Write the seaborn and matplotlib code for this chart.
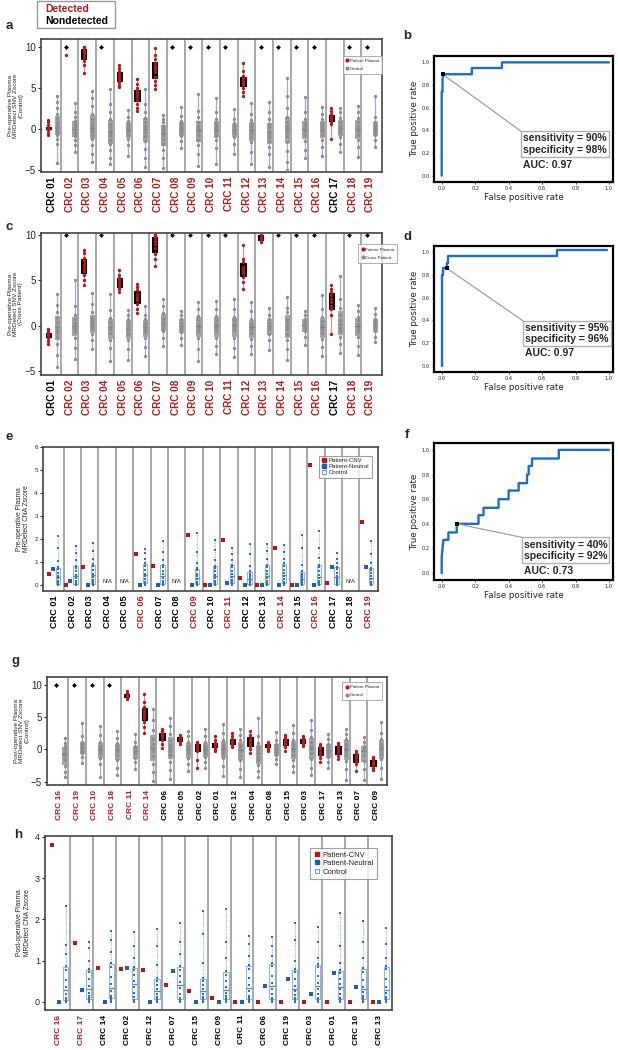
import matplotlib
matplotlib.use("Agg")
import matplotlib.pyplot as plt
import numpy as np
import pandas as pd
import seaborn as sns
from matplotlib.lines import Line2D
from matplotlib.patches import Rectangle

sns.set_theme(style="white")
plt.rcParams["font.family"] = ["Liberation Sans", "DejaVu Sans"]

# ---------------------------------------------------------------- data
pre_names = ["CRC 01", "CRC 02", "CRC 03", "CRC 04", "CRC 05", "CRC 06", "CRC 07",
             "CRC 08", "CRC 09", "CRC 10", "CRC 11", "CRC 12", "CRC 13", "CRC 14",
             "CRC 15", "CRC 16", "CRC 17", "CRC 18", "CRC 19"]
a_detected = [0, 1, 1, 1, 1, 1, 1, 1, 1, 1, 1, 1, 1, 1, 1, 1, 0, 1, 1]
c_detected = [0, 1, 1, 1, 1, 1, 1, 1, 1, 1, 1, 1, 1, 1, 1, 1, 0, 1, 1]
e_detected = [0, 0, 0, 0, 0, 1, 0, 0, 1, 0, 1, 0, 0, 1, 0, 1, 0, 0, 1]

# patient plasma z-scores ([10] = capped at 10)
a_patient = [
    [-0.8, -0.5, -0.1, 0, 0, 0, 0.05, 0.1, 0.1, 0.5, 0.8, 1.1],
    [10, 9.0],
    [6.8, 7.8, 8.3, 8.8, 9.1, 9.3, 9.5, 9.6, 9.8, 10, 10],
    [10],
    [5.1, 5.4, 5.7, 5.9, 6.1, 6.3, 6.4, 6.6, 6.8, 7.1, 7.4, 7.8],
    [2.2, 2.6, 3.0, 3.5, 3.9, 4.1, 4.3, 4.5, 4.7, 5.0, 5.5, 6.1],
    [4.8, 5.3, 5.8, 6.3, 6.9, 7.2, 7.4, 7.7, 8.0, 8.5, 9.0, 9.8],
    [10], [10], [10], [10],
    [4.0, 4.5, 5.0, 5.4, 5.6, 5.8, 6.0, 6.2, 6.5, 7.0, 8.0],
    [10], [10], [10], [10],
    [-1.2, 0.6, 0.9, 1.1, 1.3, 1.4, 1.6, 1.8, 2.2, 2.6],
    [10], [10],
]
a_control = [
    [-4.2, -1.8, -1.2, -0.8, -0.4, -0.2, 0, 0.2, 0.5, 0.9, 1.3, 1.8, 2.5, 3.3, 4.0],
    [-2.8, -2, -1.3, -0.9, -0.5, -0.2, 0, 0.3, 0.6, 1, 1.4, 2, 3.1],
    [-4, -3, -2, -1.2, -0.7, -0.3, 0, 0.3, 0.7, 1.2, 1.8, 2.8, 3.8, 4.6],
    [-4.3, -3.5, -2.6, -1.8, -1.3, -0.8, -0.5, -0.2, 0.2, 0.6, 1.2, 2.0, 3.0, 4.9],
    [-3.3, -2, -1.2, -0.7, -0.3, 0, 0.3, 0.6, 1, 1.5, 2.3],
    [-4.7, -3.5, -2.5, -1.5, -0.9, -0.4, 0, 0.4, 0.8, 1.3, 2, 3, 4.8],
    [-4.8, -3.5, -2.6, -1.8, -1.2, -0.7, -0.3, 0, 0.4, 0.8, 1.2, 1.7],
    [-2.3, -1.5, -0.9, -0.5, -0.2, 0, 0.3, 0.6, 1, 1.6, 2.7],
    [-4.5, -3, -2, -1.3, -0.7, -0.3, 0, 0.4, 0.8, 1.4, 2.2, 4.3],
    [-4.3, -2.3, -1.3, -0.7, -0.3, 0, 0.3, 0.7, 1.2, 2, 3.8],
    [-3, -1.8, -1, -0.5, -0.2, 0, 0.3, 0.7, 1.2, 2.4],
    [-4.3, -2.8, -1.6, -1, -0.5, -0.1, 0.2, 0.6, 1.1, 1.8, 3.1],
    [-4.7, -3, -2.2, -1.5, -1, -0.6, -0.2, 0.2, 0.6, 1.2, 2, 3.3],
    [-5, -4, -2.7, -1.6, -0.9, -0.4, 0, 0.4, 0.9, 1.5, 2.5, 4, 6.2],
    [-3.5, -2.6, -1.5, -0.8, -0.3, 0, 0.3, 0.7, 1.2, 2, 3.9],
    [-3.3, -2.2, -1.3, -0.7, -0.3, 0, 0.3, 0.7, 1.2, 1.8, 2.7],
    [-2.8, -1.8, -1, -0.5, -0.2, 0.1, 0.4, 0.8, 1.3, 2.0, 2.6],
    [-3.4, -2.2, -1.4, -0.8, -0.3, 0, 0.3, 0.8, 1.3, 2.1, 2.8],
    [-2.2, -1.4, -0.8, -0.4, -0.1, 0.2, 0.5, 0.9, 1.5, 4.0],
]

c_patient = [
    [-2, -1.7, -1.3, -1.0, -0.95, -0.9, -0.85, -0.8, -0.6, -0.3],
    [10],
    [4.5, 5.0, 5.6, 6.0, 6.3, 6.6, 6.8, 7.1, 7.5, 8.0, 8.3],
    [10],
    [3.7, 4.0, 4.3, 4.6, 4.8, 5.0, 5.3, 5.6, 6.1],
    [1.4, 1.9, 2.4, 2.8, 3.0, 3.2, 3.5, 3.9, 4.3, 4.6],
    [6.6, 7.3, 7.9, 8.6, 9.0, 9.3, 9.6, 9.8, 10, 10],
    [10], [10], [10], [10],
    [4.0, 4.8, 5.4, 5.8, 6.0, 6.2, 6.5, 7.0, 7.3, 8.9],
    [9.2, 9.4, 9.6, 9.8, 10, 10],
    [10], [10], [10],
    [-0.9, 1.2, 1.8, 2.2, 2.6, 3.0, 3.4, 3.7, 4.1, 4.5],
    [10], [10],
]
c_control = [
    [-4.5, -3.2, -2, -1.2, -0.7, -0.3, 0, 0.4, 0.9, 1.5, 2.3, 3.5],
    [-3.6, -2.4, -1.3, -0.7, -0.3, 0, 0.3, 0.7, 1.2, 2.2, 5.0],
    [-2.5, -1.6, -0.9, -0.4, -0.1, 0.2, 0.5, 0.9, 1.5, 2.4, 3.6],
    [-3.9, -2.4, -1.5, -0.8, -0.3, 0, 0.4, 0.9, 1.7, 3.5],
    [-3.7, -2.5, -1.5, -0.9, -0.5, -0.1, 0.3, 0.7, 1.2, 1.7],
    [-3.3, -2.3, -1.3, -0.7, -0.3, 0, 0.3, 0.7, 1.2, 2.2],
    [-2.2, -1.3, -0.6, -0.2, 0.1, 0.4, 0.8, 1.4, 2.2, 3.0],
    [-2.1, -1.3, -0.7, -0.3, 0, 0.3, 0.7, 1.2, 1.6],
    [-3.9, -2.5, -1.3, -0.6, -0.2, 0.2, 0.6, 1.1, 1.8, 2.6],
    [-3.1, -2.2, -1.3, -0.6, -0.2, 0.2, 0.6, 1.1, 1.9, 2.7],
    [-3.4, -2.4, -1.3, -0.5, -0.1, 0.2, 0.6, 1.0, 1.8, 3.0],
    [-3.1, -2.2, -1.4, -0.8, -0.3, 0, 0.3, 0.8, 1.6, 2.6],
    [-2.6, -1.6, -0.9, -0.4, 0, 0.3, 0.7, 1.2, 2.0],
    [-3.8, -2.5, -1.5, -0.9, -0.4, 0, 0.4, 0.8, 1.5, 2.0, 3.2],
    [-2.1, -1.2, -0.6, -0.2, 0.1, 0.4, 0.8, 1.2, 1.6],
    [-3.3, -2.3, -1.4, -0.8, -0.3, 0.1, 0.5, 1.0, 1.8, 3.4],
    [-3.0, -2.0, -1.2, -0.6, -0.2, 0.2, 0.6, 1.2, 2.0, 3.0, 5.5],
    [-3.2, -2.2, -1.2, -0.6, -0.2, 0.2, 0.6, 1.0, 1.6, 2.3],
    [-1.8, -1.2, -0.6, -0.2, 0.1, 0.4, 0.8, 1.3, 2.0],
]

# pre-operative CNA (None = N/A)
e_cnv = [0.5, 0.03, 0.8, None, None, 1.35, 0.85, None, 2.2, 0.0, 1.95, 0.3, 0.0,
         1.6, 0.0, 5.2, 0.1, None, 2.75]
e_neutral = [0.7, 0.2, 0.0, None, None, 0.03, 0.0, None, 0.0, 0.0, 0.1, 0.0, 0.0,
             0.0, 0.0, 0.0, 0.8, None, 0.8]
e_control = [
    [0, 0, 0.02, 0.05, 0.1, 0.18, 0.3, 0.42, 0.55, 0.7, 0.78, 1.05, 1.6, 2.15],
    [0, 0, 0.01, 0.04, 0.1, 0.2, 0.32, 0.45, 0.6, 0.75, 0.85, 1.1, 1.4, 1.7],
    [0, 0, 0.02, 0.06, 0.12, 0.22, 0.35, 0.5, 0.65, 0.82, 0.92, 1.15, 1.5, 1.83],
    [], [],
    [0, 0.01, 0.03, 0.08, 0.15, 0.25, 0.38, 0.5, 0.68, 0.85, 0.95, 1.15, 1.4, 1.58],
    [0, 0, 0.02, 0.05, 0.12, 0.2, 0.33, 0.47, 0.62, 0.8, 0.9, 1.1, 1.45, 1.9],
    [],
    [0, 0, 0.01, 0.03, 0.08, 0.15, 0.25, 0.38, 0.5, 0.65, 0.75, 0.95, 1.45, 2.25],
    [0, 0, 0.02, 0.06, 0.12, 0.2, 0.32, 0.45, 0.6, 0.75, 0.85, 1.1, 1.55, 1.97],
    [0, 0.01, 0.03, 0.07, 0.13, 0.22, 0.35, 0.48, 0.63, 0.8, 0.9, 1.1, 1.35, 1.6],
    [0, 0, 0.01, 0.03, 0.06, 0.12, 0.2, 0.3, 0.4, 0.5, 0.6, 0.85, 1.35, 1.78],
    [0, 0, 0.02, 0.06, 0.12, 0.2, 0.33, 0.47, 0.62, 0.8, 0.9, 1.15, 1.5, 1.78],
    [0, 0.02, 0.05, 0.1, 0.16, 0.25, 0.38, 0.52, 0.68, 0.85, 0.95, 1.15, 1.45, 1.73],
    [0, 0, 0.01, 0.03, 0.06, 0.12, 0.2, 0.3, 0.4, 0.5, 0.6, 0.9, 1.6, 2.2],
    [0, 0, 0.02, 0.05, 0.1, 0.18, 0.3, 0.45, 0.6, 0.8, 0.9, 1.2, 1.6, 2.35],
    [0, 0, 0.02, 0.05, 0.1, 0.18, 0.28, 0.4, 0.55, 0.7, 0.8, 0.95, 1.15, 1.4],
    [],
    [0, 0, 0.01, 0.04, 0.09, 0.16, 0.26, 0.38, 0.52, 0.66, 0.75, 0.95, 1.35, 1.9],
]

# post-operative SNV
g_names = ["CRC 16", "CRC 19", "CRC 10", "CRC 18", "CRC 11", "CRC 14", "CRC 06",
           "CRC 05", "CRC 02", "CRC 01", "CRC 12", "CRC 04", "CRC 08", "CRC 15",
           "CRC 03", "CRC 17", "CRC 13", "CRC 07", "CRC 09"]
g_detected = [1, 1, 1, 1, 1, 1, 0, 0, 0, 0, 0, 0, 0, 0, 0, 0, 0, 0, 0]
g_patient = [
    [10], [10], [10], [10],
    [7.8, 8.0, 8.1, 8.2, 8.3, 8.5, 8.8, 9.0],
    [2.6, 3.5, 4.2, 4.8, 5.2, 5.5, 5.8, 6.1, 6.6, 7.3, 8.6],
    [0.2, 0.9, 1.5, 1.8, 2.0, 2.2, 2.5, 2.9, 3.2],
    [0.8, 1.1, 1.3, 1.5, 1.6, 1.8, 2.0, 2.2],
    [-2.8, -1.6, -0.3, 0.1, 0.4, 0.6, 0.8, 1.0, 1.2],
    [-0.2, 0.1, 0.3, 0.5, 0.6, 0.8, 1.0, 1.5, 2.1],
    [0.3, 0.6, 0.8, 1.0, 1.1, 1.3, 1.6, 2.0, 2.6],
    [-0.5, 0, 0.5, 0.8, 1.2, 1.5, 1.9, 2.3, 2.8],
    [-0.3, 0.1, 0.4, 0.5, 0.6, 0.8, 1.0, 1.2],
    [-0.2, 0.3, 0.7, 0.9, 1.1, 1.3, 1.6, 1.9, 2.2],
    [0.5, 0.8, 1.0, 1.1, 1.3, 1.5, 1.8, 2.1],
    [-1.9, -1.3, -0.8, -0.4, 0, 0.3, 0.5, 0.9],
    [-1.5, -1.0, -0.6, -0.2, 0.1, 0.4, 0.7, 1.0],
    [-3.3, -2.3, -1.8, -1.4, -1.1, -0.8, -0.5, -0.2],
    [-3.2, -2.8, -2.4, -2.1, -1.9, -1.7, -1.4, -1.1],
]
g_control = [
    [-4.3, -3.5, -2.5, -1.6, -1.0, -0.5, 0, 0.5, 1.0, 1.7],
    [-2.1, -1.2, -0.6, -0.2, 0.1, 0.4, 0.8, 1.2, 2.0, 4.1],
    [-4.3, -2.3, -1.3, -0.6, -0.2, 0.2, 0.6, 1.2, 2.2, 3.7],
    [-4.0, -2.8, -1.7, -0.8, -0.3, 0.1, 0.5, 1.0, 1.8, 2.8],
    [-3.0, -2.0, -1.3, -0.6, -0.2, 0.2, 0.6, 1.2, 2.4],
    [-4.9, -3.5, -2.3, -1.0, -0.3, 0.2, 0.8, 1.6, 3.0, 4.5, 6.2],
    [-4.5, -3.2, -1.9, -0.9, -0.3, 0.2, 0.7, 1.4, 2.4, 3.6, 4.9],
    [-3.3, -2.3, -1.3, -0.6, -0.2, 0.2, 0.6, 1.1, 2.0, 2.8],
    [-2.8, -2.0, -1.2, -0.6, -0.2, 0.2, 0.6, 1.2, 2.0, 3.1],
    [-4.1, -2.5, -1.4, -0.7, -0.2, 0.3, 0.8, 1.5, 2.6, 4.0],
    [-4.3, -3.0, -1.7, -0.9, -0.3, 0.2, 0.7, 1.4, 2.2, 3.1],
    [-4.3, -3.4, -2.4, -1.7, -1.1, -0.6, -0.1, 0.4, 1.0, 2.0, 4.9],
    [-2.3, -1.5, -0.9, -0.4, 0, 0.4, 0.8, 1.4, 2.7],
    [-3.5, -2.5, -1.6, -0.8, -0.2, 0.3, 0.8, 1.5, 2.5, 3.8],
    [-3.9, -2.8, -1.5, -0.6, 0, 0.5, 1.1, 1.9, 3.0, 4.6],
    [-2.9, -2.0, -1.2, -0.5, -0.1, 0.4, 0.9, 1.6, 2.4],
    [-4.7, -3.0, -1.8, -0.8, -0.2, 0.3, 0.9, 1.6, 2.4, 3.2],
    [-4.8, -3.0, -1.8, -0.9, -0.3, 0.2, 0.6, 1.1, 1.9],
    [-4.6, -2.8, -1.5, -0.7, -0.1, 0.4, 0.9, 1.6, 2.5, 4.3],
]

# post-operative CNA
h_names = ["CRC 16", "CRC 17", "CRC 14", "CRC 02", "CRC 12", "CRC 07", "CRC 15",
           "CRC 09", "CRC 11", "CRC 06", "CRC 19", "CRC 03", "CRC 01", "CRC 10", "CRC 13"]
h_detected = [1, 1, 0, 0, 0, 0, 0, 0, 0, 0, 0, 0, 0, 0, 0]
h_cnv = [3.8, 1.42, 0.83, 0.8, 0.78, 0.4, 0.27, 0.08, 0.0, 0.0, 0.0, 0.0, 0.0, 0.0, 0.0]
h_neutral = [0.0, 0.28, 0.0, 0.83, 0.0, 0.75, 0.0, 0.0, 0.0, 0.38, 0.55, 0.2, 0.7, 0.36, 0.0]
h_control = [
    [0, 0, 0.02, 0.04, 0.06, 0.1, 0.2, 0.35, 0.52, 0.78, 0.86, 1.15, 1.38, 2.33],
    [0, 0, 0.02, 0.06, 0.1, 0.13, 0.22, 0.38, 0.55, 0.72, 0.8, 1.0, 1.3, 1.45],
    [0, 0.02, 0.05, 0.08, 0.1, 0.15, 0.25, 0.42, 0.6, 0.85, 0.95, 1.2, 1.5, 1.72],
    [0, 0, 0.01, 0.05, 0.12, 0.22, 0.35, 0.5, 0.65, 0.76, 0.84, 1.05, 1.35, 1.7],
    [0, 0.02, 0.04, 0.05, 0.08, 0.12, 0.2, 0.3, 0.4, 0.5, 0.58, 0.9, 1.35, 1.77],
    [0, 0, 0.02, 0.05, 0.1, 0.2, 0.33, 0.47, 0.62, 0.78, 0.86, 1.15, 1.45, 1.92],
    [0, 0.02, 0.03, 0.05, 0.08, 0.12, 0.2, 0.3, 0.4, 0.5, 0.58, 0.95, 1.65, 2.2],
    [0, 0.02, 0.04, 0.05, 0.08, 0.13, 0.22, 0.35, 0.5, 0.66, 0.74, 1.05, 1.45, 2.24],
    [0, 0.01, 0.03, 0.06, 0.1, 0.13, 0.25, 0.4, 0.58, 0.8, 0.9, 1.1, 1.4, 1.6],
    [0, 0.01, 0.03, 0.06, 0.1, 0.18, 0.3, 0.45, 0.62, 0.86, 0.94, 1.1, 1.35, 1.56],
    [0, 0, 0.02, 0.05, 0.1, 0.16, 0.25, 0.38, 0.55, 0.71, 0.79, 1.0, 1.5, 1.9],
    [0, 0, 0.02, 0.05, 0.1, 0.18, 0.3, 0.45, 0.62, 0.84, 0.92, 1.05, 1.45, 1.82],
    [0, 0, 0.02, 0.05, 0.1, 0.2, 0.3, 0.42, 0.55, 0.7, 0.76, 0.95, 1.35, 2.15],
    [0, 0.01, 0.03, 0.06, 0.1, 0.15, 0.24, 0.36, 0.52, 0.73, 0.81, 1.05, 1.45, 1.96],
    [0, 0.01, 0.03, 0.05, 0.08, 0.12, 0.22, 0.36, 0.55, 0.8, 0.86, 1.05, 1.4, 1.78],
]

# ROC curves (step vertices)
b_fpr = [0, 0, 0.005, 0.005, 0.01, 0.18, 0.18, 0.36, 0.36, 1.0]
b_tpr = [0, 0.74, 0.74, 0.85, 0.895, 0.895, 0.95, 0.95, 1.0, 1.0]
d_fpr = [0, 0, 0.01, 0.01, 0.03, 0.03, 0.035, 0.035, 0.69, 0.69, 0.99]
d_tpr = [0, 0.8, 0.8, 0.86, 0.86, 0.91, 0.91, 0.97, 0.97, 1.02, 1.02]
f_fpr = [0, 0, 0.005, 0.01, 0.04, 0.04, 0.09, 0.09, 0.22, 0.22, 0.25, 0.25, 0.34,
         0.34, 0.40, 0.40, 0.46, 0.46, 0.51, 0.51, 0.52, 0.52, 0.54, 0.54, 0.70, 0.70, 1.0]
f_tpr = [0, 0.13, 0.2, 0.27, 0.27, 0.33, 0.33, 0.40, 0.40, 0.47, 0.47, 0.53, 0.53,
         0.60, 0.60, 0.67, 0.67, 0.73, 0.73, 0.80, 0.80, 0.87, 0.87, 0.93, 0.93, 1.0, 1.0]
roc_points = {"b": (0.005, 0.895), "d": (0.03, 0.86), "f": (0.09, 0.40)}
roc_text = {"b": ("90%", "98%", "0.97"), "d": ("95%", "96%", "0.97"), "f": ("40%", "92%", "0.73")}

# ---------------------------------------------------------------- style
RED = "#b3161b"
RED_LAB = "#b01c1c"
GRAY_PT = "#8d8d8d"
GRAY_BOX = "#a5a5a5"
WHISK = "#97acdf"
MED = "#4f74c8"
SEP = "#8f8f8f"
BLUE = "#1f5fae"
LBLUE = "#8db8e4"

W, H = 618, 1050
fig = plt.figure(figsize=(W / 100, H / 100), dpi=100)


def px_axes(l, t, r, b):
    return fig.add_axes([l / W, 1 - b / H, (r - l) / W, (b - t) / H])


def cat_axis(ax, names, detected, xlim, fs):
    n = len(names)
    ax.set_xlim(*xlim)
    ax.set_xticks(range(n))
    ax.set_xticklabels(names, rotation=90, fontsize=fs, fontweight="bold")
    for lab, d in zip(ax.get_xticklabels(), detected):
        lab.set_color(RED_LAB if d else "black")
    ax.tick_params(axis="x", length=0, pad=3.5)
    ax.tick_params(axis="y", length=2.5, width=0.8, left=True, pad=1.2)
    for i in range(n - 1):
        ax.axvline(i + 0.5, color=SEP, lw=1.1, zorder=0)
    for s in ax.spines.values():
        s.set_color("#444444")
        s.set_linewidth(1.2)
    ax.set_xlabel("")


def snv_panel(ax, names, detected, patient, control, ylim, ylabel, leg_labels,
              leg_anchor, xlim, lab_fs, poff=-0.2, coff=0.28):
    px, py, rx, ry, capx = [], [], [], [], []
    for i, vals in enumerate(patient):
        if len(vals) <= 2 and vals[0] >= 10:
            capx.append(i + poff)
            for v in vals[1:]:
                rx.append(i + poff)
                ry.append(v)
        else:
            px += [i + poff] * len(vals)
            py += list(vals)
            rx += [i + poff] * len(vals)
            ry += list(vals)
    cx = [i + coff for i, vals in enumerate(control) for _ in vals]
    cy = [v for vals in control for v in vals]
    dfc = pd.DataFrame({"x": cx, "y": cy})
    dfp = pd.DataFrame({"x": px, "y": py})
    dfr = pd.DataFrame({"x": rx, "y": ry})
    sns.boxplot(data=dfc, x="x", y="y", native_scale=True, orient="x", width=0.24,
                whis=(0, 100), color=GRAY_BOX, linecolor=GRAY_BOX, linewidth=0.8,
                fliersize=0, saturation=1,
                whiskerprops=dict(color=WHISK, linewidth=0.9),
                capprops=dict(linewidth=0),
                medianprops=dict(color=MED, linewidth=0.8), ax=ax)
    sns.stripplot(data=dfc, x="x", y="y", native_scale=True, orient="x", jitter=False,
                  color=GRAY_PT, size=2.4, linewidth=0, ax=ax)
    sns.boxplot(data=dfp, x="x", y="y", native_scale=True, orient="x", width=0.3,
                whis=(0, 100), color="black", linecolor="black", linewidth=0.8,
                fliersize=0, saturation=1,
                whiskerprops=dict(color="#e08a8a", linewidth=0.8),
                capprops=dict(linewidth=0),
                medianprops=dict(color="black"), ax=ax)
    sns.stripplot(data=dfr, x="x", y="y", native_scale=True, orient="x", jitter=False,
                  color=RED, size=2.4, linewidth=0, ax=ax)
    sns.scatterplot(x=capx, y=[10] * len(capx), marker="D", color="black", s=6,
                    linewidth=0, ax=ax)
    ax.set_ylim(*ylim)
    ax.set_yticks([-5, 0, 5, 10])
    ax.tick_params(axis="y", labelsize=7)
    cat_axis(ax, names, detected, xlim, lab_fs)
    ax.set_ylabel(ylabel, fontsize=4.6, labelpad=1.0, linespacing=1.05)
    handles = [Line2D([], [], marker="o", ls="", color=RED, markersize=2),
               Line2D([], [], marker="o", ls="", color=GRAY_PT, markersize=2)]
    leg = ax.legend(handles, leg_labels, loc="upper right", bbox_to_anchor=leg_anchor,
                    fontsize=3.2, frameon=True, fancybox=False, edgecolor="#999999",
                    handletextpad=0.1, borderpad=0.7, labelspacing=0.9,
                    handlelength=0.8, borderaxespad=0)
    leg.get_frame().set_linewidth(0.7)


def cna_panel(ax, names, detected, cnv, neutral, control, offs, ylim, yticks,
              tick_fs, ylabel, leg_anchor, leg_fs, ms, xlim, lab_fs, na_fs=None):
    o_r, o_b, o_c = offs
    rxs = [i + o_r for i, v in enumerate(cnv) if v is not None]
    rys = [v for v in cnv if v is not None]
    bxs = [i + o_b for i, v in enumerate(neutral) if v is not None]
    bys = [v for v in neutral if v is not None]
    cx = [i + o_c for i, vals in enumerate(control) for _ in vals]
    cy = [v for vals in control for v in vals]
    dfc = pd.DataFrame({"x": cx, "y": cy})
    sns.boxplot(data=dfc, x="x", y="y", native_scale=True, orient="x", width=0.24,
                whis=(0, 100), fill=False, color=LBLUE, linewidth=0.8, fliersize=0,
                whiskerprops=dict(color=LBLUE, linestyle=(0, (1, 1)), linewidth=0.8),
                capprops=dict(linewidth=0),
                medianprops=dict(color="#4a86c8", linewidth=0.9), ax=ax)
    sns.stripplot(data=dfc, x="x", y="y", native_scale=True, orient="x", jitter=False,
                  color="#2f6fbd", marker="s", size=1.3, linewidth=0, ax=ax)
    sns.scatterplot(x=rxs, y=rys, marker="s", color=RED, s=ms, linewidth=0, ax=ax)
    sns.scatterplot(x=bxs, y=bys, marker="s", color=BLUE, s=ms, linewidth=0, ax=ax)
    if na_fs:
        for i, v in enumerate(cnv):
            if v is None:
                ax.text(i, 0.05, "N/A", fontsize=na_fs, ha="center", va="bottom")
    ax.set_ylim(*ylim)
    ax.set_yticks(yticks)
    ax.tick_params(axis="y", labelsize=tick_fs)
    cat_axis(ax, names, detected, xlim, lab_fs)
    ax.set_ylabel(ylabel, fontsize=4.8, labelpad=3, linespacing=1.1)
    handles = [Line2D([], [], marker="s", ls="", color=RED, markersize=3),
               Line2D([], [], marker="s", ls="", color=BLUE, markersize=3),
               Line2D([], [], marker="s", ls="", markerfacecolor="white",
                      markeredgecolor="#5f9ad8", markeredgewidth=0.7, markersize=3)]
    leg = ax.legend(handles, ["Patient-CNV", "Patient-Neutral", "Control"],
                    loc="upper right", bbox_to_anchor=leg_anchor, fontsize=leg_fs,
                    frameon=True, fancybox=False, edgecolor="#888888",
                    handletextpad=0.3, borderpad=0.4, labelspacing=0.15,
                    handlelength=1.0, borderaxespad=0)
    leg.get_frame().set_linewidth(0.8)


def roc_panel(ax, key, fpr, tpr, box_x, box_top, text_y, auc_y):
    sns.lineplot(x=fpr, y=tpr, sort=False, estimator=None, color="#1f6fbf",
                 linewidth=1.7, ax=ax)
    pt = roc_points[key]
    sens, spec, auc = roc_text[key]
    ax.annotate("", xy=pt, xytext=(box_x, box_top),
                arrowprops=dict(arrowstyle="-", color="#a0a0a0", lw=0.9,
                                shrinkA=0, shrinkB=0))
    sns.scatterplot(x=[pt[0]], y=[pt[1]], marker="s", color="black", s=7,
                    linewidth=0, ax=ax, zorder=5)
    ax.text(box_x + 0.01, text_y, f"sensitivity = {sens}\nspecificity = {spec}",
            fontsize=7.5, fontweight="bold", va="center", ha="left", linespacing=1.2,
            family=["Liberation Sans"],
            bbox=dict(boxstyle="square,pad=0.2", fc="white", ec="#b0b0b0", lw=1.0))
    ax.text(box_x + 0.01, auc_y, f"AUC: {auc}", fontsize=7.5, fontweight="bold",
            va="center", ha="left", family=["Liberation Sans"])
    ax.set_xlim(-0.046, 1.024)
    ax.set_ylim(-0.056, 1.056)
    ax.set_xticks([0, 0.2, 0.4, 0.6, 0.8, 1.0])
    ax.set_yticks([0, 0.2, 0.4, 0.6, 0.8, 1.0])
    ax.set_xticklabels(["0.0", "0.2", "0.4", "0.6", "0.8", "1.0"], family=["DejaVu Sans"])
    ax.set_yticklabels(["0.0", "0.2", "0.4", "0.6", "0.8", "1.0"], family=["DejaVu Sans"])
    ax.tick_params(labelsize=3.6, length=1.5, width=0.6, pad=1.5, left=True, bottom=True)
    ax.set_xlabel("False positive rate", fontsize=6.3, labelpad=1.5, family=["DejaVu Sans"])
    ax.set_ylabel("True positive rate", fontsize=6.3, labelpad=2, family=["DejaVu Sans"])
    for s in ax.spines.values():
        s.set_color("black")
        s.set_linewidth(1.6)


# ---------------------------------------------------------------- panels
ax_a = px_axes(41, 39, 382, 172)
snv_panel(ax_a, pre_names, a_detected, a_patient, a_control, (-5.25, 10.95),
          "Pre-operative Plasma\nMRDetect SNV Zscore\n(Control)",
          ["Patient Plasma", "Control"], (1.0, 0.875), (-0.62, 18.66), 7.2)

ax_c = px_axes(41, 233, 382, 375)
snv_panel(ax_c, pre_names, c_detected, c_patient, c_control, (-5.4, 10.2),
          "Pre-operative Plasma\nMRDetect SNV Zscore\n(Cross Patient)",
          ["Patient Plasma", "Cross Patient"], (1.045, 0.92), (-0.62, 18.66), 7.2)

ax_e = px_axes(43, 447, 378, 591)
cna_panel(ax_e, pre_names, e_detected, e_cnv, e_neutral, e_control,
          (-0.36, -0.1, 0.19), (-0.25, 6.0), [0, 1, 2, 3, 4, 5, 6], 4.5,
          "Pre-operative Plasma\nMRDetect CNA Zscore", (0.982, 0.94), 4.3, 6,
          (-0.68, 18.57), 6.6, na_fs=4.2)

ax_g = px_axes(47, 677, 387, 785)
snv_panel(ax_g, g_names, g_detected, g_patient, g_control, (-5.5, 11.2),
          "Post-operative Plasma\nMRDetect SNV Zscore\n(Control)",
          ["Patient Plasma", "Control"], (0.985, 0.955), (-0.72, 18.61), 6.0,
          poff=-0.18, coff=0.28)

ax_h = px_axes(45, 836, 392, 1010)
cna_panel(ax_h, h_names, h_detected, h_cnv, h_neutral, h_control,
          (-0.3, 0.0, 0.3), (-0.2, 4.02), [0, 1, 2, 3, 4], 6.5,
          "Post-operative Plasma\nMRDetect CNA Zscore", (0.957, 0.93), 5.5, 10,
          (-0.6, 14.55), 6.0)

ax_b = px_axes(434, 56, 613, 182)
roc_panel(ax_b, "b", b_fpr, b_tpr, 0.478, 0.388, 0.28, 0.094)
ax_d = px_axes(434, 246, 613, 372)
roc_panel(ax_d, "d", d_fpr, d_tpr, 0.487, 0.395, 0.283, 0.11)
ax_f = px_axes(434, 443, 613, 580)
roc_panel(ax_f, "f", f_fpr, f_tpr, 0.48, 0.29, 0.185, 0.015)

# panel letters
for letter, (x, y) in {"a": (9, 26), "b": (407, 36), "c": (9, 227), "d": (407, 237),
                       "e": (9, 437), "f": (407, 435), "g": (15, 661),
                       "h": (18, 835)}.items():
    fig.text(x / W, 1 - y / H, letter, fontsize=9.5, fontweight="bold",
             ha="center", va="center")

# Detected / Nondetected key
fig.patches.append(Rectangle((37 / W, 1 - 28 / H), 78 / W, 27 / H,
                             transform=fig.transFigure, fill=False,
                             edgecolor="#999999", linewidth=1.0))
fig.text(45 / W, 1 - 8.5 / H, "Detected", color=RED_LAB, fontsize=7.5,
         fontweight="bold", va="center")
fig.text(45 / W, 1 - 21.5 / H, "Nondetected", color="black", fontsize=7.5,
         fontweight="bold", va="center")

fig.savefig("out.png", dpi=100)
